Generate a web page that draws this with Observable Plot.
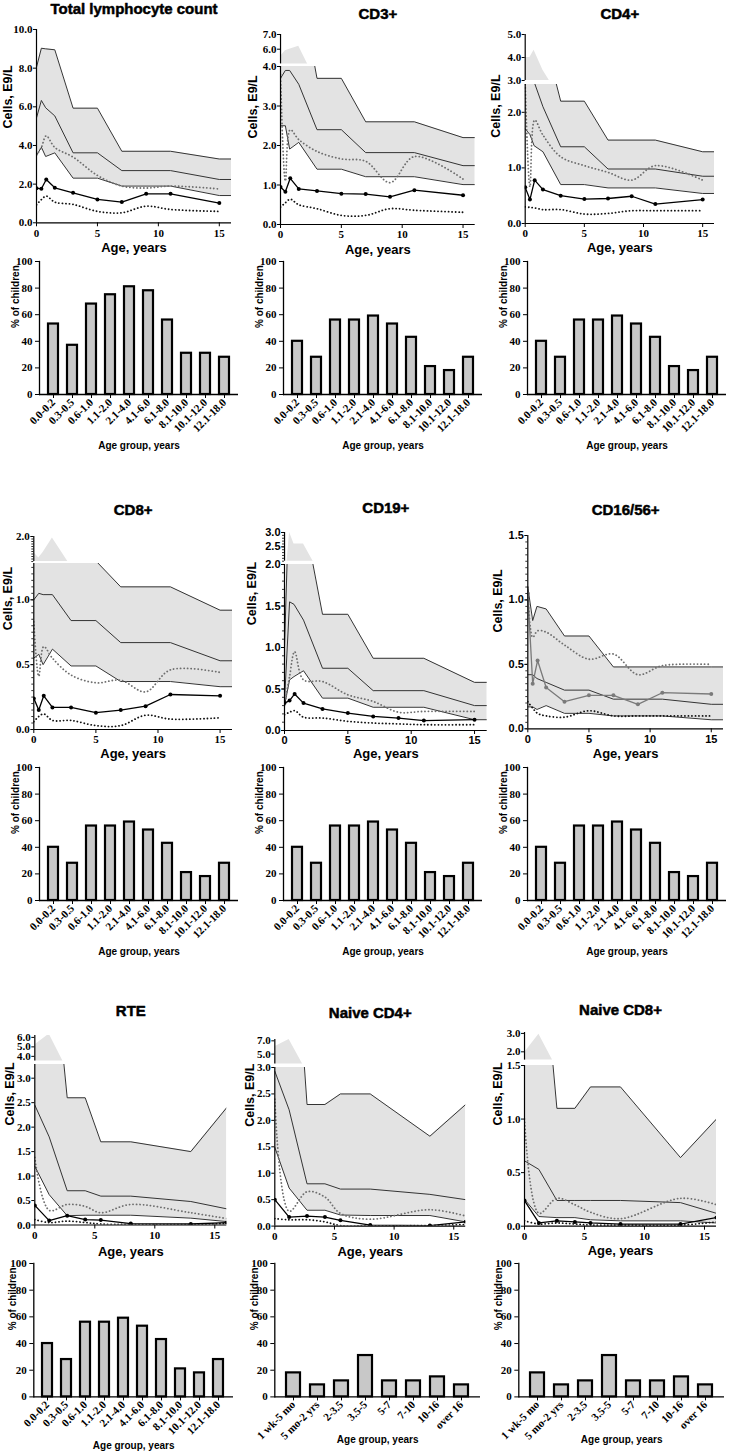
<!DOCTYPE html>
<html>
<head>
<meta charset="utf-8">
<script src="https://cdn.jsdelivr.net/npm/d3@7"></script>
<script src="https://cdn.jsdelivr.net/npm/@observablehq/plot@0.6"></script>
<style>
html,body{margin:0;padding:0;background:#fff;}
#page{position:relative;width:732px;height:1452px;overflow:hidden;background:#fff;}
#page svg{position:absolute;overflow:visible;background:transparent;max-width:none;}
</style>
</head>
<body>
<div id="page"></div>
<script>
// ---------- DATA ----------
const ageRef = [0, 0.4, 0.75, 1.5, 3, 5, 7, 11, 15, 16];
const agePatient = [0, 0.4, 0.8, 1.5, 3, 5, 7, 9, 11, 15];
const ageNaive = [0, 1.2, 2.7, 4.2, 5.5, 8, 13, 16];
const ageTicks = [0, 5, 10, 15];
const ageGroups = ["0.0-0.2","0.3-0.5","0.6-1.0","1.1-2.0","2.1-4.0","4.1-6.0","6.1-8.0","8.1-10.0","10.1-12.0","12.1-18.0"];
const ageGroupsNaive = ["1 wk-5 mo","5 mo-2 yrs","2-3.5","3.5-5","5-7","7-10","10-16","over 16"];

const pctTotal = [53, 37, 68, 75, 81, 78, 56, 31, 31, 28];
const pctSubsets = [40, 28, 56, 56, 59, 53, 43, 21, 18, 28];
const pctNaive = [18, 9, 12, 31, 12, 12, 15, 9];

// Total lymphocyte count
const totalRefHi  = [8.05, 9.03, 9.0, 8.95, 5.93, 5.93, 3.7, 3.7, 3.3, 3.3];
const totalRefMed = [5.43, 6.33, 5.95, 5.53, 3.62, 3.62, 2.7, 2.7, 2.24, 2.24];
const totalRefLo  = [3.48, 3.91, 3.43, 3.62, 2.31, 2.31, 1.9, 1.9, 1.41, 1.41];
const totalPtHi   = [3.5, 3.9, 4.5, 3.9, 3.4, 2.45, 1.9, 1.8, 1.9, 1.75];
const totalPtMed  = [1.79, 1.76, 2.24, 1.81, 1.55, 1.21, 1.07, 1.5, 1.5, 1.02];
const totalPtLo   = [0.93, 1.2, 1.38, 1.07, 0.95, 0.59, 0.52, 0.86, 0.69, 0.59];
// CD3+
const cd3RefHi  = [5.5, 5.9, 6.0, 6.2, 3.7, 3.7, 2.6, 2.6, 2.2, 2.2];
const cd3RefMed = [3.7, 3.9, 3.9, 3.55, 2.4, 2.4, 1.82, 1.82, 1.49, 1.49];
const cd3RefLo  = [2.5, 2.5, 1.91, 2.08, 1.4, 1.4, 1.21, 1.21, 1.01, 1.01];
const cd3PtHi   = [3.8, 1.1, 2.4, 2.15, 1.85, 1.66, 1.6, 1.06, 1.72, 1.15];
const cd3PtMed  = [0.95, 0.83, 1.17, 0.9, 0.85, 0.78, 0.77, 0.7, 0.87, 0.74];
const cd3PtLo   = [0.44, 0.55, 0.64, 0.5, 0.4, 0.23, 0.23, 0.4, 0.36, 0.31];
// CD4+
const cd4RefHi  = [4.0, 4.0, 4.32, 3.45, 2.2, 2.2, 1.5, 1.5, 1.29, 1.29];
const cd4RefMed = [2.8, 2.9, 2.55, 2.1, 1.38, 1.38, 0.98, 0.98, 0.85, 0.85];
const cd4RefLo  = [1.7, 1.6, 1.4, 1.29, 0.7, 0.7, 0.64, 0.64, 0.54, 0.54];
const cd4PtHi   = [2.5, 0.66, 1.86, 1.59, 1.2, 1.04, 0.92, 0.78, 1.04, 0.78];
const cd4PtMed  = [0.65, 0.43, 0.78, 0.61, 0.5, 0.44, 0.45, 0.49, 0.35, 0.43];
const cd4PtLo   = [0.3, 0.29, 0.28, 0.25, 0.25, 0.17, 0.18, 0.23, 0.23, 0.23];
// CD8+
const cd8RefHi  = [1.68, 1.57, 1.68, 1.97, 1.4, 1.3, 1.1, 1.1, 0.92, 0.92];
const cd8RefMed = [1.0, 1.05, 1.04, 1.04, 0.84, 0.84, 0.67, 0.67, 0.53, 0.53];
const cd8RefLo  = [0.55, 0.58, 0.5, 0.62, 0.49, 0.49, 0.37, 0.37, 0.33, 0.33];
const cd8PtHi   = [0.83, 0.41, 0.64, 0.55, 0.42, 0.36, 0.38, 0.29, 0.46, 0.44];
const cd8PtMed  = [0.24, 0.15, 0.26, 0.17, 0.17, 0.13, 0.15, 0.18, 0.27, 0.26];
const cd8PtLo   = [0.06, 0.1, 0.12, 0.07, 0.07, 0.03, 0.03, 0.11, 0.08, 0.09];
// CD19+
const cd19RefHi  = [1.0, 3.0, 2.6, 2.6, 1.4, 1.4, 0.87, 0.87, 0.58, 0.58];
const cd19RefMed = [0.35, 1.55, 1.52, 1.33, 0.75, 0.75, 0.48, 0.48, 0.3, 0.3];
const cd19RefLo  = [0.3, 0.61, 0.65, 0.72, 0.39, 0.39, 0.28, 0.28, 0.13, 0.13];
const cd19PtHi   = [0.3, 0.65, 0.95, 0.61, 0.59, 0.43, 0.35, 0.22, 0.23, 0.23];
const cd19PtMed  = [0.33, 0.36, 0.44, 0.33, 0.26, 0.21, 0.17, 0.15, 0.12, 0.13];
const cd19PtLo   = [0.19, 0.22, 0.24, 0.16, 0.15, 0.11, 0.09, 0.08, 0.07, 0.07];
// CD16/56+
const nkRefHi  = [1.1, 0.84, 0.95, 0.93, 0.72, 0.72, 0.48, 0.48, 0.48, 0.48];
const nkRefMed = [0.42, 0.42, 0.39, 0.36, 0.3, 0.3, 0.23, 0.23, 0.19, 0.19];
const nkRefLo  = [0.17, 0.17, 0.15, 0.18, 0.12, 0.12, 0.1, 0.1, 0.07, 0.07];
const nkPtHi   = [1.1, 0.71, 0.76, 0.75, 0.65, 0.54, 0.58, 0.42, 0.49, 0.5];
const nkPtMed  = [1.05, 0.35, 0.53, 0.32, 0.21, 0.26, 0.26, 0.19, 0.28, 0.27];
const nkPtLo   = [0.21, 0.16, 0.12, 0.1, 0.09, 0.14, 0.1, 0.1, 0.1, 0.1];
// RTE
const rteRefHi  = [5.2, 6.35, 2.6, 2.6, 1.7, 1.7, 1.5, 2.4];
const rteRefMed = [2.45, 1.8, 0.7, 0.7, 0.59, 0.59, 0.48, 0.33];
const rteRefLo  = [1.2, 0.62, 0.19, 0.2, 0.2, 0.2, 0.14, 0.07];
const rtePtHi   = [1.38, 0.3, 0.42, 0.38, 0.25, 0.42, 0.25, 0.13];
const rtePtMed  = [0.4, 0.09, 0.19, 0.11, 0.1, 0.03, 0.02, 0.05];
const rtePtLo   = [0.11, 0.05, 0.08, 0.05, 0.02, 0.01, 0.01, 0.03];
// Naive CD4+
const n4RefHi  = [6.1, 7.2, 2.3, 2.3, 2.5, 2.5, 1.7, 2.3];
const n4RefMed = [2.93, 2.2, 0.8, 0.8, 0.7, 0.7, 0.6, 0.5];
const n4RefLo  = [1.49, 0.72, 0.3, 0.3, 0.21, 0.2, 0.2, 0.08];
const n4PtHi   = [2.4, 0.28, 0.65, 0.55, 0.24, 0.13, 0.31, 0.19];
const n4PtMed  = [0.5, 0.17, 0.19, 0.17, 0.11, 0.02, 0.01, 0.08];
const n4PtLo   = [0.14, 0.12, 0.12, 0.08, 0.01, 0.005, 0.01, 0.03];
// Naive CD8+
const n8RefHi  = [1.95, 2.95, 1.1, 1.1, 1.3, 1.3, 0.64, 1.0];
const n8RefMed = [0.61, 0.53, 0.24, 0.24, 0.24, 0.24, 0.22, 0.12];
const n8RefLo  = [0.25, 0.09, 0.08, 0.08, 0.06, 0.05, 0.05, 0.03];
const n8PtHi   = [1.0, 0.12, 0.26, 0.2, 0.13, 0.07, 0.26, 0.2];
const n8PtMed  = [0.24, 0.03, 0.05, 0.04, 0.03, 0.02, 0.02, 0.08];
const n8PtLo   = [0.05, 0.02, 0.03, 0.02, 0.01, 0.01, 0.01, 0.04];

// ---------- LAYOUT ----------
const SERIF = '"Liberation Serif","DejaVu Serif",serif';
const SANS = '"Liberation Sans","DejaVu Sans",Arial,sans-serif';
const COLS = [0, 244, 488];
const half = [0, 0.5, 1, 1.5, 2, 2.5, 3];

const panels = [
  {title:"Total lymphocyte count", col:0, titleY:13, ax:36, rx:231, y0:222.3, lowTop:29, lowDom:[0,10], lowTicks:[0,2,4,6,8,10], up:null, ylabY:128, ylabDx:-24.3, ageY:252,
   refX:ageRef, ptX:agePatient, ref:[totalRefHi,totalRefMed,totalRefLo], pt:[totalPtHi,totalPtMed,totalPtLo], font:SERIF, ptColor:"#000",
   groups:ageGroups, pct:pctTotal, bTop:261, bBot:394, bAx:39, bRx:238, bLabDx:-20.7, groupY:448, pad:[0.45,0.3]},
  {title:"CD3+", col:1, titleY:19, ax:280, rx:474.7, y0:224, lowTop:66, lowDom:[0,4], lowTicks:[0,1,2,3,4], up:{dom:[5,7], bot:63.7, top:34.3, ticks:[6,7]}, ylabY:138, ylabDx:-23.3, ageY:253,
   refX:ageRef, ptX:agePatient, ref:[cd3RefHi,cd3RefMed,cd3RefLo], pt:[cd3PtHi,cd3PtMed,cd3PtLo], font:SERIF, ptColor:"#000",
   groups:ageGroups, pct:pctSubsets, bTop:261, bBot:394, bAx:283, bRx:482, bLabDx:-20.7, groupY:448, pad:[0.45,0.3]},
  {title:"CD4+", col:2, titleY:19, ax:524.7, rx:714, y0:223.3, lowTop:84.3, lowDom:[0,2.5], lowTicks:[0,1,2], up:{dom:[3,5], bot:80.3, top:34.3, ticks:[3,4,5]}, ylabY:137.5, ylabDx:-25, ageY:252,
   refX:ageRef, ptX:agePatient, ref:[cd4RefHi,cd4RefMed,cd4RefLo], pt:[cd4PtHi,cd4PtMed,cd4PtLo], font:SERIF, ptColor:"#000",
   groups:ageGroups, pct:pctSubsets, bTop:261, bBot:394, bAx:527, bRx:726, bLabDx:-20.7, groupY:448, pad:[0.45,0.3]},
  {title:"CD8+", col:0, titleY:514, ax:33.3, rx:232, y0:729.3, lowTop:563.3, lowDom:[0,1.28], lowTicks:[0,0.5,1], up:{dom:[1.5,2.0], bot:561, top:536, ticks:[2]}, ylabY:630, ylabDx:-21.6, ageY:758, minor:0.05,
   refX:ageRef, ptX:agePatient, ref:[cd8RefHi,cd8RefMed,cd8RefLo], pt:[cd8PtHi,cd8PtMed,cd8PtLo], font:SERIF, ptColor:"#000",
   groups:ageGroups, pct:pctSubsets, bTop:767, bBot:900, bAx:39, bRx:238, bLabDx:-20.7, groupY:954, pad:[0.45,0.3]},
  {title:"CD19+", col:1, titleY:513, ax:284, rx:486.7, y0:730.3, lowTop:564.3, lowDom:[0,2], lowTicks:[0,0.5,1,1.5,2], up:{dom:[2,3], bot:561, top:532.3, ticks:[2.5,3]}, ylabY:625, ylabDx:-29, ageY:758, minor:0.1,
   refX:ageRef, ptX:agePatient, ref:[cd19RefHi,cd19RefMed,cd19RefLo], pt:[cd19PtHi,cd19PtMed,cd19PtLo], font:SANS, ptColor:"#000",
   groups:ageGroups, pct:pctSubsets, bTop:767, bBot:900, bAx:283, bRx:482, bLabDx:-20.7, groupY:954, pad:[0.45,0.3]},
  {title:"CD16/56+", col:2, titleY:514, ax:527.3, rx:723, y0:728.3, lowTop:535, lowDom:[0,1.5], lowTicks:[0,0.5,1,1.5], up:null, ylabY:632, ylabDx:-26, ageY:758, minor:0.05,
   refX:ageRef, ptX:agePatient, ref:[nkRefHi,nkRefMed,nkRefLo], pt:[nkPtHi,nkPtMed,nkPtLo], font:SANS, ptColor:"#7a7a7a",
   groups:ageGroups, pct:pctSubsets, bTop:767, bBot:900, bAx:527, bRx:726, bLabDx:-20.7, groupY:954, pad:[0.45,0.3]},
  {title:"RTE", col:0, titleY:1016, ax:34.3, rx:226.3, y0:1224.5, lowTop:1064, lowDom:[0,3.28], lowTicks:half, up:{dom:[3.5,6.2], bot:1061, top:1035.4, ticks:[4,5,6]}, ylabY:1125, ylabDx:-21, ageY:1255,
   refX:ageNaive, ptX:ageNaive, ref:[rteRefHi,rteRefMed,rteRefLo], pt:[rtePtHi,rtePtMed,rtePtLo], font:SERIF, ptColor:"#000",
   groups:ageGroups, pct:pctSubsets, bTop:1263.3, bBot:1396.7, bAx:33.3, bRx:233, bLabDx:-18.3, groupY:1449, pad:[0.45,0.3]},
  {title:"Naive CD4+", col:1, titleY:1017, ax:274.3, rx:465.2, y0:1225.3, lowTop:1066.7, lowDom:[0,3], lowTicks:half, up:{dom:[3.5,7.2], bot:1063.3, top:1038.7, ticks:[5,7]}, ylabY:1126, ylabDx:-21, ageY:1255,
   refX:ageNaive, ptX:ageNaive, ref:[n4RefHi,n4RefMed,n4RefLo], pt:[n4PtHi,n4PtMed,n4PtLo], font:SERIF, ptColor:"#000",
   groups:ageGroupsNaive, pct:pctNaive, bTop:1263.3, bBot:1396.7, bAx:274.3, bRx:480, bLabDx:-17, groupY:1443, pad:[0.4,0.35]},
  {title:"Naive CD8+", col:2, titleY:1015, ax:524, rx:716, y0:1225.7, lowTop:1065, lowDom:[0,1.5], lowTicks:[0,0.5,1,1.5], up:{dom:[1.55,3.05], bot:1060, top:1032.4, ticks:[2,3]}, ylabY:1125, ylabDx:-22.7, ageY:1255,
   refX:ageNaive, ptX:ageNaive, ref:[n8RefHi,n8RefMed,n8RefLo], pt:[n8PtHi,n8PtMed,n8PtLo], font:SERIF, ptColor:"#000",
   groups:ageGroupsNaive, pct:pctNaive, bTop:1263.3, bBot:1396.7, bAx:518.3, bRx:724, bLabDx:-17, groupY:1443, pad:[0.4,0.35]}
];

const page = document.getElementById("page");
function place(svg, left, top) {
  svg.style.left = left + "px";
  svg.style.top = top + "px";
  page.appendChild(svg);
}
const fmt1 = d3.format(".1f");
const BAND = "#e3e3e3";

function drawPanel(p) {
  const colX = COLS[p.col];
  const ref = p.refX.map((x, i) => ({x, hi: p.ref[0][i], med: p.ref[1][i], lo: p.ref[2][i]}));
  const pt = p.ptX.map((x, i) => ({x, hi: p.pt[0][i], med: p.pt[1][i], lo: p.pt[2][i]}));
  const base = {
    width: 244, marginLeft: p.ax - colX, marginRight: colX + 244 - p.rx, marginTop: 0, marginBottom: 0,
    style: {fontFamily: p.font, fontSize: "11px", fontWeight: "bold", overflow: "visible", background: "transparent", color: "#000"}
  };
  const titleMark = (frameTop) => Plot.text([p.title], {frameAnchor: "top", dy: p.titleY - frameTop, lineAnchor: "bottom",
    fontFamily: SANS, fontSize: 15, fontWeight: "bold", fill: "#000", stroke: "#000", strokeWidth: 0.5});
  const minorMarks = (dom) => p.minor ? [Plot.axisY({ticks: d3.range(dom[0], dom[1] + 1e-9, p.minor), tickSize: 2, tickFormat: () => "", strokeWidth: 0.8})] : [];

  // upper (broken) segment of the y axis
  if (p.up) {
    const up = Plot.plot({
      ...base, height: p.up.bot - p.up.top,
      x: {domain: [0, 16], axis: null},
      y: {domain: p.up.dom},
      marks: [
        Plot.areaY(ref, {x: "x", y1: "lo", y2: "hi", fill: BAND, clip: true}),
        Plot.ruleX([0], {stroke: "#000", strokeWidth: 1.2}),
        ...minorMarks(p.up.dom),
        Plot.axisY({ticks: p.up.ticks, tickFormat: fmt1, tickSize: 3, tickPadding: 1, label: null}),
        titleMark(p.up.top)
      ]
    });
    place(up, colX, p.up.top);
  }

  const dotted = {strokeWidth: 1.8, strokeDasharray: "0.1,3.4", strokeLinecap: "round", curve: "catmull-rom", clip: true};
  const lowMarks = [
    Plot.areaY(ref, {x: "x", y1: "lo", y2: "hi", fill: BAND, clip: true}),
    Plot.line(ref, {x: "x", y: "hi", stroke: "#333", strokeWidth: 1, clip: true}),
    Plot.line(ref, {x: "x", y: "med", stroke: "#333", strokeWidth: 1, clip: true}),
    Plot.line(ref, {x: "x", y: "lo", stroke: "#333", strokeWidth: 1, clip: true}),
    Plot.line(pt, {x: "x", y: "hi", stroke: "#6e6e6e", ...dotted}),
    Plot.line(pt, {x: "x", y: "lo", stroke: "#111", ...dotted}),
    Plot.line(pt, {x: "x", y: "med", stroke: p.ptColor, strokeWidth: 1.3, clip: true}),
    Plot.dot(pt, {x: "x", y: "med", r: 2, fill: p.ptColor, clip: true}),
    Plot.ruleX([0], {stroke: "#000", strokeWidth: 1.2}),
    Plot.ruleY([0], {stroke: "#000", strokeWidth: 1.2}),
    ...minorMarks(p.lowDom),
    Plot.axisY({ticks: p.lowTicks, tickFormat: fmt1, tickSize: 3, tickPadding: 1, label: null}),
    Plot.axisX({ticks: ageTicks, tickSize: 4, tickPadding: 2, label: null}),
    Plot.text(["Age, years"], {frameAnchor: "bottom", dy: p.ageY - p.y0, lineAnchor: "bottom",
      fontFamily: SANS, fontSize: 13, fontWeight: "bold", fill: "#000"}),
    Plot.text(["Cells, E9/L"], {frameAnchor: "left", rotate: -90, dx: p.ylabDx, dy: p.ylabY - (p.y0 + p.lowTop) / 2,
      lineAnchor: "bottom", fontFamily: SANS, fontSize: 12.5, fontWeight: "bold", fill: "#000"})
  ];
  if (!p.up) lowMarks.push(titleMark(p.lowTop));
  const low = Plot.plot({
    ...base, height: p.y0 - p.lowTop,
    x: {domain: [0, 16]},
    y: {domain: p.lowDom},
    marks: lowMarks
  });
  place(low, colX, p.lowTop);

  // bar chart
  const bars = p.groups.map((g, i) => ({g, v: p.pct[i]}));
  const bar = Plot.plot({
    width: 244, height: p.bBot - p.bTop,
    marginLeft: p.bAx - colX, marginRight: colX + 244 - p.bRx, marginTop: 0, marginBottom: 0,
    style: {fontFamily: SERIF, fontSize: "11px", fontWeight: "bold", overflow: "visible", background: "transparent", color: "#000"},
    x: {domain: p.groups, paddingInner: p.pad[0], paddingOuter: p.pad[1]},
    y: {domain: [0, 100]},
    marks: [
      Plot.barY(bars, {x: "g", y: "v", fill: "#c8c8c8", stroke: "#000", strokeWidth: 2.2}),
      Plot.ruleY([0], {stroke: "#000", strokeWidth: 1.3}),
      Plot.frame({anchor: "left", stroke: "#000", strokeWidth: 1.3}),
      Plot.axisY({ticks: [0, 20, 40, 60, 80, 100], tickSize: 4, tickPadding: 3, label: null}),
      Plot.axisX({tickRotate: -45, tickSize: 4, tickPadding: 2, label: null}),
      Plot.text(["% of children"], {frameAnchor: "left", rotate: -90, dx: p.bLabDx, lineAnchor: "bottom",
        fontFamily: SANS, fontSize: 10, fontWeight: "bold", fill: "#000"}),
      Plot.text(["Age group, years"], {frameAnchor: "bottom", dy: p.groupY - p.bBot, lineAnchor: "bottom",
        fontFamily: SANS, fontSize: 10, fontWeight: "bold", fill: "#000"})
    ]
  });
  place(bar, colX, p.bTop);
}

panels.forEach(drawPanel);
</script>
</body>
</html>
